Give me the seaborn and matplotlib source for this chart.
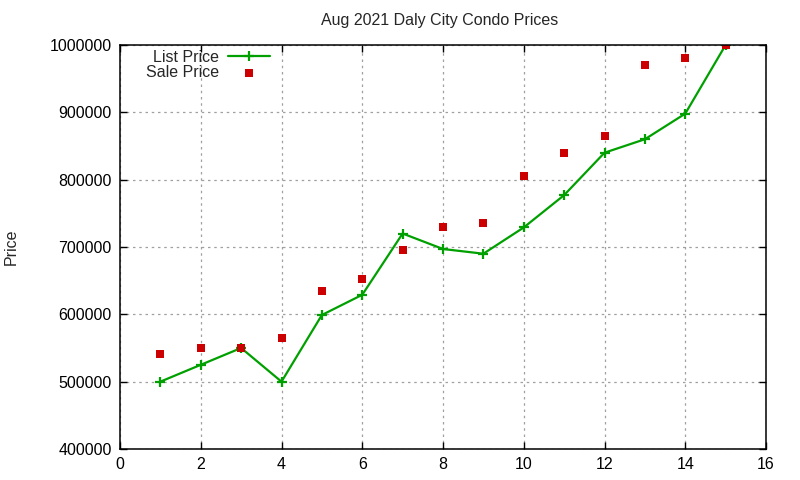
import matplotlib
matplotlib.use("Agg")
import matplotlib.pyplot as plt
import seaborn as sns
import pandas as pd

# listings, sorted by list price
listing = [1, 2, 3, 4, 5, 6, 7, 8, 9, 10, 11, 12, 13, 14, 15]
listPrice = [500000, 525000, 550000, 500000, 599000, 629000, 720000, 697000,
             690000, 729000, 777000, 840000, 860000, 898000, 1000000]
salePrice = [541000, 550000, 550000, 565000, 634000, 652000, 696000, 730000,
             736000, 806000, 840000, 865000, 970000, 980000, 1000000]

df = pd.DataFrame({"n": listing, "list": listPrice, "sale": salePrice})

sns.set_style("ticks")
plt.rcParams["font.family"] = ["Liberation Sans", "DejaVu Sans"]
plt.rcParams["font.size"] = 11.5

fig = plt.figure(figsize=(8, 4.8), dpi=100)
ax = fig.add_axes([0.15, 0.0646, 0.8075, 0.8417])

green = "#00a000"
red = "#cc0000"
sns.lineplot(data=df, x="n", y="list", ax=ax, color=green, linewidth=1.6,
             marker="+", markersize=7, markeredgewidth=1.6,
             markeredgecolor=green, markerfacecolor=green, label="List Price")
sns.scatterplot(data=df, x="n", y="sale", ax=ax, color=red, marker="s",
                s=40, linewidth=0, label="Sale Price", zorder=5)

ax.set_xlim(0, 16)
ax.set_ylim(400000, 1000000)
ax.set_xticks(range(0, 17, 2))
ax.set_yticks(range(400000, 1000001, 100000))
ax.ticklabel_format(style="plain", axis="y")
ax.grid(True, color="#a0a0a0", linestyle=(0, (2, 3)), linewidth=0.9)
ax.tick_params(direction="in", top=True, right=True, length=5, width=1,
               labelsize=11.5, colors="black", pad=6)
for sp in ax.spines.values():
    sp.set_visible(True)
    sp.set_linewidth(1.1)
    sp.set_color("black")
    sp.set_zorder(6)

ax.set_xlabel("")
ax.set_ylabel("Price", fontsize=11.5, labelpad=22)
fig.text(0.55, 0.958, "Aug 2021 Daly City Condo Prices", ha="center", va="center", fontsize=11.5)

ax.legend(loc="upper left", bbox_to_anchor=(0.025, 1.012), frameon=False,
          markerfirst=False, handlelength=2.6, fontsize=11.5,
          labelspacing=0.0, handletextpad=0.6, borderaxespad=0.2)

fig.savefig("out.png", dpi=100)
